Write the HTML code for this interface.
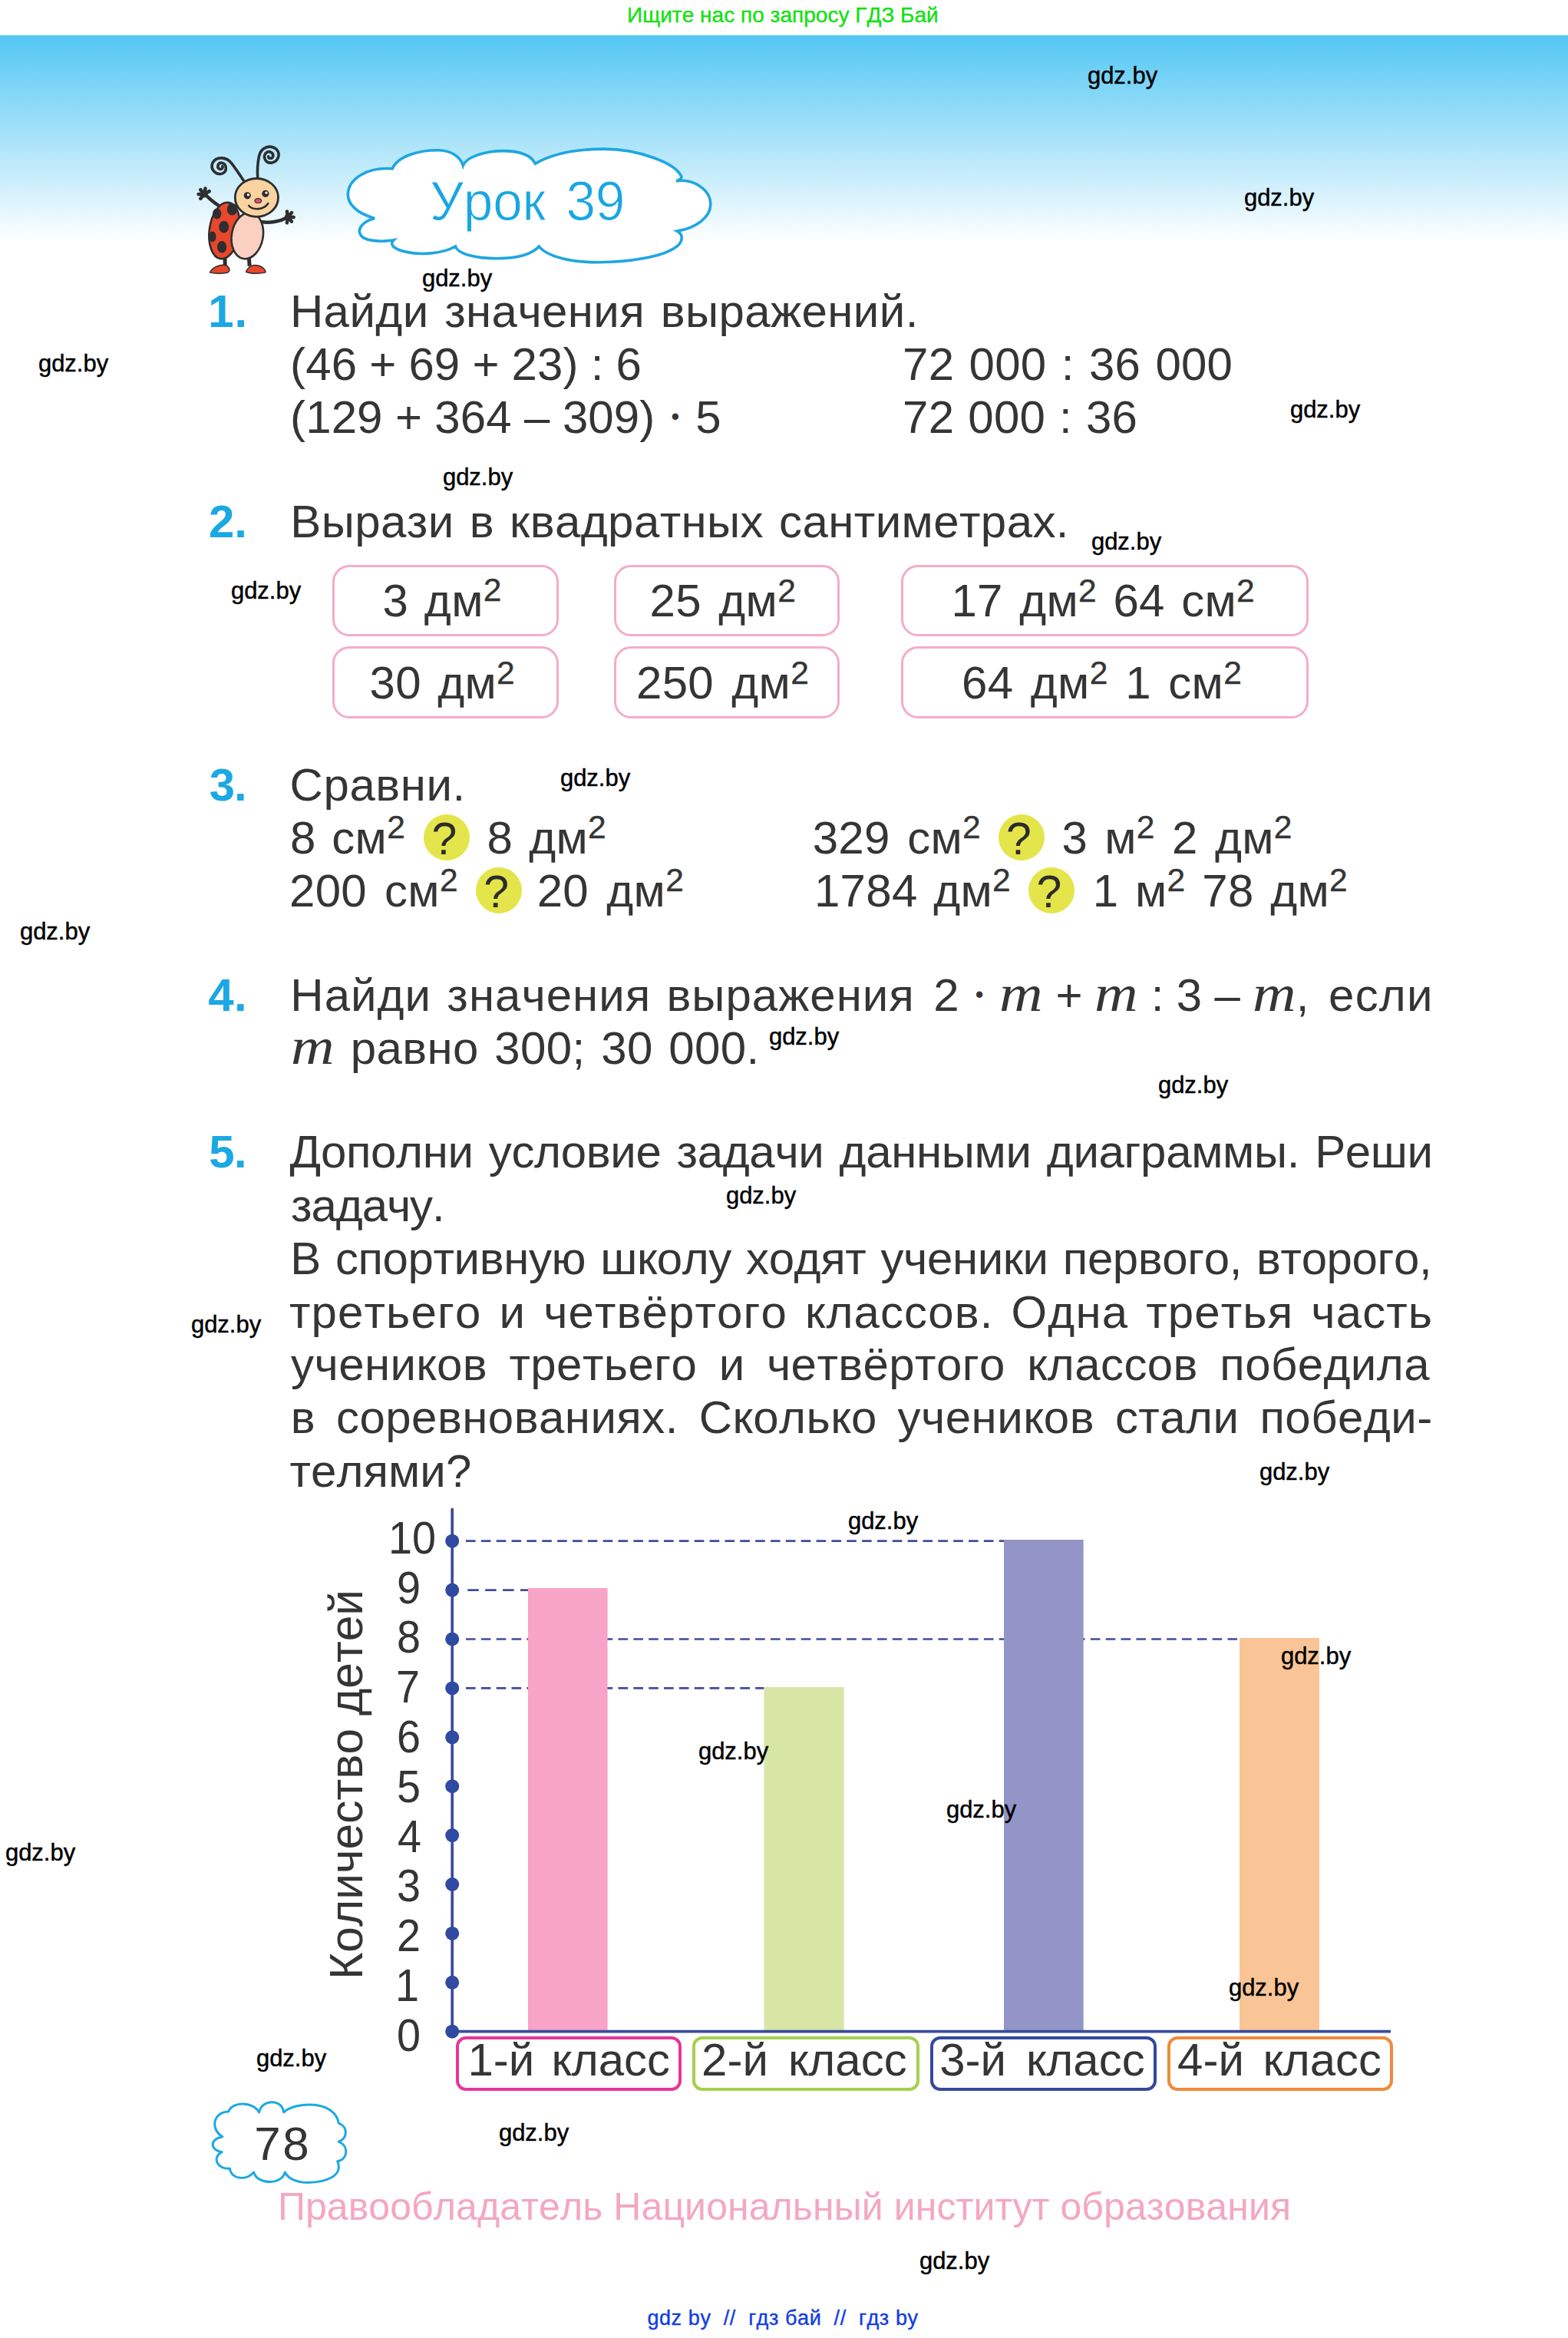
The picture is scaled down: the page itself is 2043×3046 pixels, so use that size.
<!DOCTYPE html>
<html lang="ru"><head><meta charset="utf-8"><title>Урок 39</title>
<style>
html,body{margin:0;padding:0;background:#fff}
body{width:2043px;height:3046px;position:relative;overflow:hidden;font-family:'Liberation Sans',sans-serif;color:#353535}
.sky{position:absolute;left:0;top:46px;width:2043px;height:270px;background:linear-gradient(#53c7f4,#fff)}
.t{position:absolute;white-space:pre;line-height:1;font-kerning:none}
.t sup{-webkit-text-stroke:.35px;font-size:.71em;vertical-align:baseline;position:relative;top:-.46em;line-height:0}
.t i{font-family:'Liberation Serif',serif;font-style:italic;font-size:1.117em;line-height:0;display:inline-block;transform:scaleX(1.17);margin:0 .07em 0 .05em;letter-spacing:0}
.t b.d{font-weight:400;font-size:.51em;display:inline-block;width:.66em;text-align:center;position:relative;top:-.36em;line-height:0;letter-spacing:0}
svg{position:absolute;left:0;top:0}
.box{position:absolute;box-sizing:border-box;border:3.8px solid #f5abca;border-radius:22px;background:#fff}
.q{position:absolute;width:60px;height:60px;border-radius:50%;background:#e3e54b}
.lb{position:absolute;box-sizing:border-box;border:4.2px solid;border-radius:13px;height:70.5px;top:2653px;background:#fff}
</style></head><body>
<div class="sky"></div>
<svg width="2043" height="3046" viewBox="0 0 2043 3046">
<path d="M488.1,284.5 C464.9,277.8 453.3,266.2 453.3,253.0 C454.1,233.1 478.1,217.3 511.3,219.8 C517.9,203.2 547.8,194.9 572.7,195.8 C589.3,196.6 600.0,204.9 603.3,215.7 C607.5,204.9 630.7,196.6 655.6,196.6 C675.5,196.6 691.6,201.6 697.4,213.2 C721.5,199.1 754.6,194.1 787.8,194.1 C829.3,194.1 880.7,211.5 888.1,230.6 C887.3,233.1 884.0,235.1 881.0,235.9 C902.2,232.2 925.8,246.3 925.8,266.2 C925.8,282.8 907.2,296.9 882.3,301.1 C891.4,306.0 889.8,316.8 879.0,323.0 C862.4,334.2 821.0,341.7 779.5,341.7 C746.3,341.7 713.2,335.1 702.4,321.0 C694.9,329.3 680.5,336.7 647.3,336.7 C619.1,336.7 596.7,330.9 593.4,321.0 C577.6,330.1 547.8,333.4 526.2,327.6 C514.6,324.3 506.3,319.3 513.0,312.7 C494.7,316.0 473.2,313.5 469.9,306.0 C464.9,298.6 473.2,287.8 488.1,284.5Z" fill="#fff" stroke="#1ea6e1" stroke-width="3.6" stroke-linejoin="miter"/>
<path d="M289.9,2783.8 C273.9,2774.2 277.1,2751.9 297.8,2751.1 C302.6,2737.5 329.7,2737.5 337.7,2751.9 C340.9,2734.3 368.0,2734.3 369.6,2751.9 C385.5,2737.5 436.5,2735.9 441.3,2766.2 C453.3,2771.0 453.3,2785.4 441.3,2790.2 C455.7,2796.5 452.5,2814.1 439.7,2815.7 C447.7,2834.8 425.4,2842.8 401.5,2843.6 C388.7,2843.6 376.0,2839.6 371.2,2830.0 C368.0,2846.0 336.1,2847.6 330.5,2830.0 C321.7,2841.2 301.0,2839.6 299.4,2825.2 C283.5,2826.8 275.5,2810.9 289.1,2803.7 C273.9,2801.3 272.3,2787.0 289.9,2783.8Z" fill="#fff" stroke="#1ca8e3" stroke-width="3" stroke-linejoin="round"/>
<g><path d="M317.2,235.1 C311.4,226.1 306.3,218.5 301.2,212.1 C294.8,204.4 282.1,203.2 277.0,212.1 C273.2,221.0 282.1,228.7 289.7,226.1 C296.1,223.6 296.1,213.4 288.5,212.1 C283.4,212.1 282.1,218.5 286.6,220.4 C289.1,221.0 291.0,218.5 289.7,216.6" fill="none" stroke="#2e2e30" stroke-width="3.6" stroke-linecap="round"/><path d="M335.7,231.9 C335.0,221.0 335.7,212.1 337.6,203.2 C340.1,191.7 352.2,187.9 359.9,194.2 C366.3,200.6 362.4,210.8 353.5,212.1 C345.9,212.7 342.0,204.4 346.5,199.3 C351.0,195.5 357.3,199.3 355.4,204.4 C354.2,207.0 349.7,207.0 349.7,203.8" fill="none" stroke="#2e2e30" stroke-width="3.6" stroke-linecap="round"/><path d="M292.9,333.3 L293.3,346.7 M324.2,333.3 L325.2,346.7" stroke="#2e2e30" stroke-width="5" fill="none"/><path d="M273.4,354.9 C278.3,346.0 291.0,343.5 296.1,346.7 C299.9,349.8 299.9,353.7 296.1,355.2 C288.5,356.9 278.3,356.5 273.4,354.9Z" fill="#e8472b" stroke="#2e2e30" stroke-width="1.5"/><path d="M320.6,354.3 C322.9,347.3 329.3,344.1 336.9,346.0 C343.3,347.9 346.5,352.4 345.9,354.9 C339.5,356.9 326.7,356.9 320.6,354.3Z" fill="#e8472b" stroke="#2e2e30" stroke-width="1.5"/><path d="M291.0,271.4 C282.1,266.9 273.2,259.3 267.4,253.5" stroke="#2e2e30" stroke-width="4.5" fill="none" stroke-linecap="round"/><path d="M342.0,289.3 C352.2,290.5 365.0,288.6 373.9,283.5" stroke="#2e2e30" stroke-width="4.5" fill="none" stroke-linecap="round"/><path d="M266.1,252.9 L261.3,258.7 M266.1,252.9 L258.6,252.9 M266.1,252.9 L261.3,247.2 M266.1,252.9 L267.5,245.5 M266.1,252.9 L272.6,249.2" stroke="#2e2e30" stroke-width="4.5" stroke-linecap="round" fill="none"/><circle cx="266.1" cy="252.9" r="4.5" fill="#2e2e30"/><path d="M375.2,282.9 L373.9,275.5 M375.2,282.9 L380.0,277.1 M375.2,282.9 L382.7,282.9 M375.2,282.9 L380.0,288.6 M375.2,282.9 L373.9,290.3" stroke="#2e2e30" stroke-width="4.5" stroke-linecap="round" fill="none"/><circle cx="375.2" cy="282.9" r="4.5" fill="#2e2e30"/><ellipse cx="292.6" cy="300.5" rx="19.8" ry="37.0" transform="rotate(8 292.6 300.5)" fill="#e8472b" stroke="#2e2e30" stroke-width="2.6"/><ellipse cx="302.5" cy="272.7" rx="6.6" ry="7.9" fill="#2e2e30"/><ellipse cx="282.7" cy="278.4" rx="5.7" ry="7.0" fill="#2e2e30"/><ellipse cx="291.7" cy="295.6" rx="6.4" ry="7.9" fill="#2e2e30"/><ellipse cx="277.0" cy="308.4" rx="4.5" ry="7.0" fill="#2e2e30"/><ellipse cx="289.1" cy="321.8" rx="6.1" ry="7.7" fill="#2e2e30"/><ellipse cx="322.3" cy="307.1" rx="20.4" ry="30.4" transform="rotate(10 322.3 307.1)" fill="#fbd0c0" stroke="#2e2e30" stroke-width="2.6"/><ellipse cx="334.4" cy="257.4" rx="28.1" ry="24.9" fill="#fbd3a0" stroke="#2e2e30" stroke-width="2.8"/><circle cx="322.3" cy="254.8" r="4.6" fill="#2e2e30"/><circle cx="323.4" cy="253.7" r="1.7" fill="#fff"/><circle cx="345.9" cy="252.3" r="4.6" fill="#2e2e30"/><circle cx="347.0" cy="251.1" r="1.7" fill="#fff"/><ellipse cx="336.3" cy="261.6" rx="4.2" ry="2.9" fill="#e8506a" stroke="#2e2e30" stroke-width="1.2"/><path d="M324.2,268.0 C329.3,274.0 343.3,274.0 349.4,265.0" stroke="#2e2e30" stroke-width="2.6" fill="none" stroke-linecap="round"/></g>
<line x1="607" y1="2007.7" x2="1308" y2="2007.7" stroke="#3f4d96" stroke-width="2.7" stroke-dasharray="12.6 7.25"/>
<line x1="609.3" y1="2071.6" x2="688" y2="2071.6" stroke="#3f4d96" stroke-width="2.7" stroke-dasharray="14.5 8.4"/>
<line x1="607" y1="2135.5" x2="1615" y2="2135.5" stroke="#3f4d96" stroke-width="2.7" stroke-dasharray="12.6 7.25"/>
<line x1="607" y1="2199.4" x2="995.5" y2="2199.4" stroke="#3f4d96" stroke-width="2.7" stroke-dasharray="12.6 7.25"/>
<rect x="688" y="2069" width="103.6" height="577.7" fill="#f7a4c6"/>
<rect x="995.5" y="2198" width="104.2" height="448.7" fill="#d7e6a5"/>
<rect x="1308" y="2006" width="103.7" height="640.7" fill="#9395c6"/>
<rect x="1615" y="2134" width="104.0" height="512.7" fill="#fac596"/>
<line x1="589.2" y1="1966.3" x2="589.2" y2="2646.7" stroke="#3b4b9b" stroke-width="3.7" stroke-linecap="round"/>
<line x1="589.2" y1="2646.7" x2="1812" y2="2646.7" stroke="#3b4b9b" stroke-width="3.7"/>
<circle cx="589.2" cy="2646.7" r="9" fill="#2f4aa0"/>
<circle cx="589.2" cy="2582.8" r="9" fill="#2f4aa0"/>
<circle cx="589.2" cy="2518.9" r="9" fill="#2f4aa0"/>
<circle cx="589.2" cy="2455.0" r="9" fill="#2f4aa0"/>
<circle cx="589.2" cy="2391.1" r="9" fill="#2f4aa0"/>
<circle cx="589.2" cy="2327.2" r="9" fill="#2f4aa0"/>
<circle cx="589.2" cy="2263.3" r="9" fill="#2f4aa0"/>
<circle cx="589.2" cy="2199.4" r="9" fill="#2f4aa0"/>
<circle cx="589.2" cy="2135.5" r="9" fill="#2f4aa0"/>
<circle cx="589.2" cy="2071.6" r="9" fill="#2f4aa0"/>
<circle cx="589.2" cy="2007.7" r="9" fill="#2f4aa0"/>
</svg>
<div class="box" style="left:433px;top:735.5px;width:294.6px;height:93.5px"></div>
<div class="box" style="left:433px;top:842.2px;width:294.6px;height:93.7px"></div>
<div class="box" style="left:799.8px;top:735.5px;width:293.9px;height:93.5px"></div>
<div class="box" style="left:799.8px;top:842.2px;width:293.9px;height:93.7px"></div>
<div class="box" style="left:1174px;top:735.5px;width:531.0px;height:93.5px"></div>
<div class="box" style="left:1174px;top:842.2px;width:531.0px;height:93.7px"></div>
<div class="q" style="left:552px;top:1060.8px"></div>
<div class="q" style="left:619.6px;top:1130px"></div>
<div class="q" style="left:1300.5px;top:1060.8px"></div>
<div class="q" style="left:1339.8px;top:1130px"></div>
<div class="lb" style="left:594px;width:294.3px;border-color:#e6369a"></div>
<div class="lb" style="left:902.4px;width:295.5px;border-color:#a6cf4f"></div>
<div class="lb" style="left:1212.4px;width:294.4px;border-color:#34499b"></div>
<div class="lb" style="left:1520.9px;width:294.6px;border-color:#ef8a3b"></div>
<div class="t" style="left:817.0px;top:6.3px;font-size:28px;color:#12e012;letter-spacing:0.02px;-webkit-text-stroke:.35px #12e012;">Ищите нас по запросу ГДЗ Бай</div>
<div class="t" style="left:560.1px;top:224.5px;font-size:73px;color:#1aa6e2;letter-spacing:-0.20px;word-spacing:8.04px;-webkit-text-stroke:1px #fff;transform:scaleX(0.95);transform-origin:0 0;">Урок 39</div>
<div class="t" style="left:271.2px;top:375.7px;font-size:60px;color:#1ca8e3;font-weight:700;letter-spacing:0.87px;">1.</div>
<div class="t" style="left:377.9px;top:375.7px;font-size:60px;letter-spacing:0.40px;word-spacing:3.47px;">Найди значения выражений.</div>
<div class="t" style="left:378.1px;top:445.2px;font-size:60px;letter-spacing:0.10px;word-spacing:-0.70px;">(46 + 69 + 23) : 6</div>
<div class="t" style="left:1176.1px;top:445.2px;font-size:60px;letter-spacing:0.20px;word-spacing:2.51px;">72 000 : 36 000</div>
<div class="t" style="left:378.1px;top:514.2px;font-size:60px;letter-spacing:0.10px;word-spacing:-0.45px;">(129 + 364 – 309) <b class="d">•</b> 5</div>
<div class="t" style="left:1176.1px;top:514.2px;font-size:60px;letter-spacing:0.20px;word-spacing:1.21px;">72 000 : 36</div>
<div class="t" style="left:272.0px;top:649.5px;font-size:60px;color:#1ca8e3;font-weight:700;letter-spacing:-0.23px;">2.</div>
<div class="t" style="left:378.3px;top:649.5px;font-size:60px;letter-spacing:0.40px;word-spacing:3.00px;">Вырази в квадратных сантиметрах.</div>
<div class="t" style="left:498.4px;top:752.9px;font-size:60px;letter-spacing:0.30px;word-spacing:3.79px;">3 дм<sup>2</sup></div>
<div class="t" style="left:846.5px;top:753.2px;font-size:60px;letter-spacing:0.30px;word-spacing:5.45px;">25 дм<sup>2</sup></div>
<div class="t" style="left:1239.4px;top:753.2px;font-size:60px;letter-spacing:0.30px;word-spacing:4.45px;">17 дм<sup>2</sup> 64 см<sup>2</sup></div>
<div class="t" style="left:481.5px;top:860.2px;font-size:60px;letter-spacing:0.30px;word-spacing:4.43px;">30 дм<sup>2</sup></div>
<div class="t" style="left:829.0px;top:860.2px;font-size:60px;letter-spacing:0.30px;word-spacing:6.28px;">250 дм<sup>2</sup></div>
<div class="t" style="left:1253.0px;top:860.2px;font-size:60px;letter-spacing:0.30px;word-spacing:5.50px;">64 дм<sup>2</sup> 1 см<sup>2</sup></div>
<div class="t" style="left:272.7px;top:993.1px;font-size:60px;color:#1ca8e3;font-weight:700;letter-spacing:-1.13px;">3.</div>
<div class="t" style="left:377.6px;top:993.1px;font-size:60px;letter-spacing:0.56px;">Сравни.</div>
<div class="t" style="left:378.0px;top:1061.6px;font-size:60px;letter-spacing:0.30px;word-spacing:3.63px;">8 см<sup>2</sup></div>
<div class="t" style="left:634.4px;top:1061.6px;font-size:60px;letter-spacing:0.30px;word-spacing:4.20px;">8 дм<sup>2</sup></div>
<div class="t" style="left:377.0px;top:1131.0px;font-size:60px;letter-spacing:0.30px;word-spacing:6.09px;">200 см<sup>2</sup></div>
<div class="t" style="left:699.7px;top:1131.0px;font-size:60px;letter-spacing:0.30px;word-spacing:6.26px;">20 дм<sup>2</sup></div>
<div class="t" style="left:1058.7px;top:1061.6px;font-size:60px;letter-spacing:0.30px;word-spacing:5.57px;">329 см<sup>2</sup></div>
<div class="t" style="left:1383.4px;top:1061.6px;font-size:60px;letter-spacing:0.30px;word-spacing:5.25px;">3 м<sup>2</sup> 2 дм<sup>2</sup></div>
<div class="t" style="left:1060.9px;top:1131.0px;font-size:60px;letter-spacing:0.30px;word-spacing:3.66px;">1784 дм<sup>2</sup></div>
<div class="t" style="left:1423.7px;top:1131.0px;font-size:60px;letter-spacing:0.30px;word-spacing:4.68px;">1 м<sup>2</sup> 78 дм<sup>2</sup></div>
<div class="t" style="left:562.6px;top:1064.1px;font-size:59px;color:#2c2c2c;">?</div>
<div class="t" style="left:630.2px;top:1133.3px;font-size:59px;color:#2c2c2c;">?</div>
<div class="t" style="left:1311.1px;top:1064.1px;font-size:59px;color:#2c2c2c;">?</div>
<div class="t" style="left:1350.4px;top:1133.3px;font-size:59px;color:#2c2c2c;">?</div>
<div class="t" style="left:271.3px;top:1266.6px;font-size:60px;color:#1ca8e3;font-weight:700;letter-spacing:0.29px;">4.</div>
<div class="t" style="left:378.3px;top:1266.6px;font-size:60px;letter-spacing:1.00px;word-spacing:2.66px;">Найди значения выражения</div>
<div class="t" style="left:1216.3px;top:1266.6px;font-size:60px;word-spacing:-0.28px;">2 <b class="d">•</b> <i>m</i> + <i>m</i> : 3 – <i>m</i>,</div>
<div class="t" style="left:1731.1px;top:1266.6px;font-size:60px;letter-spacing:1.17px;">если</div>
<div class="t" style="left:379.7px;top:1336.2px;font-size:60px;letter-spacing:0.40px;word-spacing:3.46px;"><i>m</i> равно 300; 30 000.</div>
<div class="t" style="left:272.2px;top:1471.0px;font-size:60px;color:#1ca8e3;font-weight:700;letter-spacing:-0.57px;">5.</div>
<div class="t" style="left:377.6px;top:1470.8px;font-size:60px;letter-spacing:-0.35px;word-spacing:3.77px;">Дополни условие задачи данными диаграммы. Реши</div>
<div class="t" style="left:379.1px;top:1540.5px;font-size:60px;letter-spacing:-1.11px;">задачу.</div>
<div class="t" style="left:378.2px;top:1610.4px;font-size:60px;letter-spacing:-0.40px;word-spacing:2.81px;">В спортивную школу ходят ученики первого, второго,</div>
<div class="t" style="left:377.0px;top:1679.7px;font-size:60px;letter-spacing:1.10px;word-spacing:5.32px;">третьего и четвёртого классов. Одна третья часть</div>
<div class="t" style="left:379.1px;top:1748.3px;font-size:60px;letter-spacing:0.40px;word-spacing:11.33px;">учеников третьего и четвёртого классов победила</div>
<div class="t" style="left:378.8px;top:1817.2px;font-size:60px;letter-spacing:0.45px;word-spacing:9.77px;">в соревнованиях. Сколько учеников стали победи-</div>
<div class="t" style="left:377.5px;top:1886.5px;font-size:60px;letter-spacing:0.05px;">телями?</div>
<div class="t" style="left:517.1px;top:2621.8px;font-size:60px;transform:scaleX(0.93);transform-origin:0 0;">0</div>
<div class="t" style="left:515.0px;top:2557.0px;font-size:60px;transform:scaleX(0.93);transform-origin:0 0;">1</div>
<div class="t" style="left:516.5px;top:2492.2px;font-size:60px;transform:scaleX(0.93);transform-origin:0 0;">2</div>
<div class="t" style="left:517.2px;top:2427.4px;font-size:60px;transform:scaleX(0.93);transform-origin:0 0;">3</div>
<div class="t" style="left:518.0px;top:2362.6px;font-size:60px;transform:scaleX(0.93);transform-origin:0 0;">4</div>
<div class="t" style="left:517.1px;top:2297.8px;font-size:60px;transform:scaleX(0.93);transform-origin:0 0;">5</div>
<div class="t" style="left:516.5px;top:2233.0px;font-size:60px;transform:scaleX(0.93);transform-origin:0 0;">6</div>
<div class="t" style="left:516.4px;top:2168.2px;font-size:60px;transform:scaleX(0.93);transform-origin:0 0;">7</div>
<div class="t" style="left:516.9px;top:2103.4px;font-size:60px;transform:scaleX(0.93);transform-origin:0 0;">8</div>
<div class="t" style="left:516.7px;top:2038.6px;font-size:60px;transform:scaleX(0.93);transform-origin:0 0;">9</div>
<div class="t" style="left:506.3px;top:1973.8px;font-size:60px;transform:scaleX(0.93);transform-origin:0 0;">10</div>
<div class="t" style="left:609.4px;top:2654.0px;font-size:60px;word-spacing:5.48px;">1-й класс</div>
<div class="t" style="left:914.1px;top:2654.0px;font-size:60px;word-spacing:9.43px;">2-й класс</div>
<div class="t" style="left:1224.2px;top:2654.0px;font-size:60px;word-spacing:9.29px;">3-й класс</div>
<div class="t" style="left:1534.1px;top:2654.0px;font-size:60px;word-spacing:7.79px;">4-й класс</div>
<div class="t" style="left:331.3px;top:2761.5px;font-size:62px;letter-spacing:2.41px;">78</div>
<div class="t" style="left:361.9px;top:2850.2px;font-size:50px;color:#f4a7c0;letter-spacing:0.08px;">Правообладатель Национальный институт образования</div>
<div class="t" style="left:843.4px;top:3006.7px;font-size:27px;color:#143ee2;letter-spacing:0.60px;-webkit-text-stroke:.4px #143ee2;">gdz by&nbsp; //&nbsp; гдз бай&nbsp; //&nbsp; гдз by</div>
<div class="t" style="left:1416.9px;top:82.7px;font-size:31px;color:#000;letter-spacing:0.00px;-webkit-text-stroke:.45px #000;">gdz.by</div>
<div class="t" style="left:1620.9px;top:241.7px;font-size:31px;color:#000;letter-spacing:0.00px;-webkit-text-stroke:.45px #000;">gdz.by</div>
<div class="t" style="left:549.9px;top:346.7px;font-size:31px;color:#000;letter-spacing:0.00px;-webkit-text-stroke:.45px #000;">gdz.by</div>
<div class="t" style="left:49.9px;top:457.7px;font-size:31px;color:#000;letter-spacing:0.00px;-webkit-text-stroke:.45px #000;">gdz.by</div>
<div class="t" style="left:1680.9px;top:517.7px;font-size:31px;color:#000;letter-spacing:0.00px;-webkit-text-stroke:.45px #000;">gdz.by</div>
<div class="t" style="left:576.9px;top:605.7px;font-size:31px;color:#000;letter-spacing:0.00px;-webkit-text-stroke:.45px #000;">gdz.by</div>
<div class="t" style="left:1421.9px;top:689.7px;font-size:31px;color:#000;letter-spacing:0.00px;-webkit-text-stroke:.45px #000;">gdz.by</div>
<div class="t" style="left:300.9px;top:753.7px;font-size:31px;color:#000;letter-spacing:0.00px;-webkit-text-stroke:.45px #000;">gdz.by</div>
<div class="t" style="left:729.9px;top:997.7px;font-size:31px;color:#000;letter-spacing:0.00px;-webkit-text-stroke:.45px #000;">gdz.by</div>
<div class="t" style="left:25.9px;top:1197.7px;font-size:31px;color:#000;letter-spacing:0.00px;-webkit-text-stroke:.45px #000;">gdz.by</div>
<div class="t" style="left:1001.9px;top:1334.7px;font-size:31px;color:#000;letter-spacing:0.00px;-webkit-text-stroke:.45px #000;">gdz.by</div>
<div class="t" style="left:1508.9px;top:1397.7px;font-size:31px;color:#000;letter-spacing:0.00px;-webkit-text-stroke:.45px #000;">gdz.by</div>
<div class="t" style="left:945.9px;top:1541.7px;font-size:31px;color:#000;letter-spacing:0.00px;-webkit-text-stroke:.45px #000;">gdz.by</div>
<div class="t" style="left:248.9px;top:1709.7px;font-size:31px;color:#000;letter-spacing:0.00px;-webkit-text-stroke:.45px #000;">gdz.by</div>
<div class="t" style="left:1640.9px;top:1901.7px;font-size:31px;color:#000;letter-spacing:0.00px;-webkit-text-stroke:.45px #000;">gdz.by</div>
<div class="t" style="left:1104.9px;top:1965.7px;font-size:31px;color:#000;letter-spacing:0.00px;-webkit-text-stroke:.45px #000;">gdz.by</div>
<div class="t" style="left:1668.9px;top:2141.7px;font-size:31px;color:#000;letter-spacing:0.00px;-webkit-text-stroke:.45px #000;">gdz.by</div>
<div class="t" style="left:909.9px;top:2265.7px;font-size:31px;color:#000;letter-spacing:0.00px;-webkit-text-stroke:.45px #000;">gdz.by</div>
<div class="t" style="left:1232.9px;top:2341.7px;font-size:31px;color:#000;letter-spacing:0.00px;-webkit-text-stroke:.45px #000;">gdz.by</div>
<div class="t" style="left:6.9px;top:2397.7px;font-size:31px;color:#000;letter-spacing:0.00px;-webkit-text-stroke:.45px #000;">gdz.by</div>
<div class="t" style="left:1600.9px;top:2573.7px;font-size:31px;color:#000;letter-spacing:0.00px;-webkit-text-stroke:.45px #000;">gdz.by</div>
<div class="t" style="left:333.9px;top:2665.7px;font-size:31px;color:#000;letter-spacing:0.00px;-webkit-text-stroke:.45px #000;">gdz.by</div>
<div class="t" style="left:649.9px;top:2762.7px;font-size:31px;color:#000;letter-spacing:0.00px;-webkit-text-stroke:.45px #000;">gdz.by</div>
<div class="t" style="left:1197.9px;top:2929.7px;font-size:31px;color:#000;letter-spacing:0.00px;-webkit-text-stroke:.45px #000;">gdz.by</div>
<div class="t" style="left:421.3px;top:2578.7px;font-size:60.5px;letter-spacing:0.02px;transform:rotate(-90deg);transform-origin:0 0;">Количество детей</div>
</body></html>
